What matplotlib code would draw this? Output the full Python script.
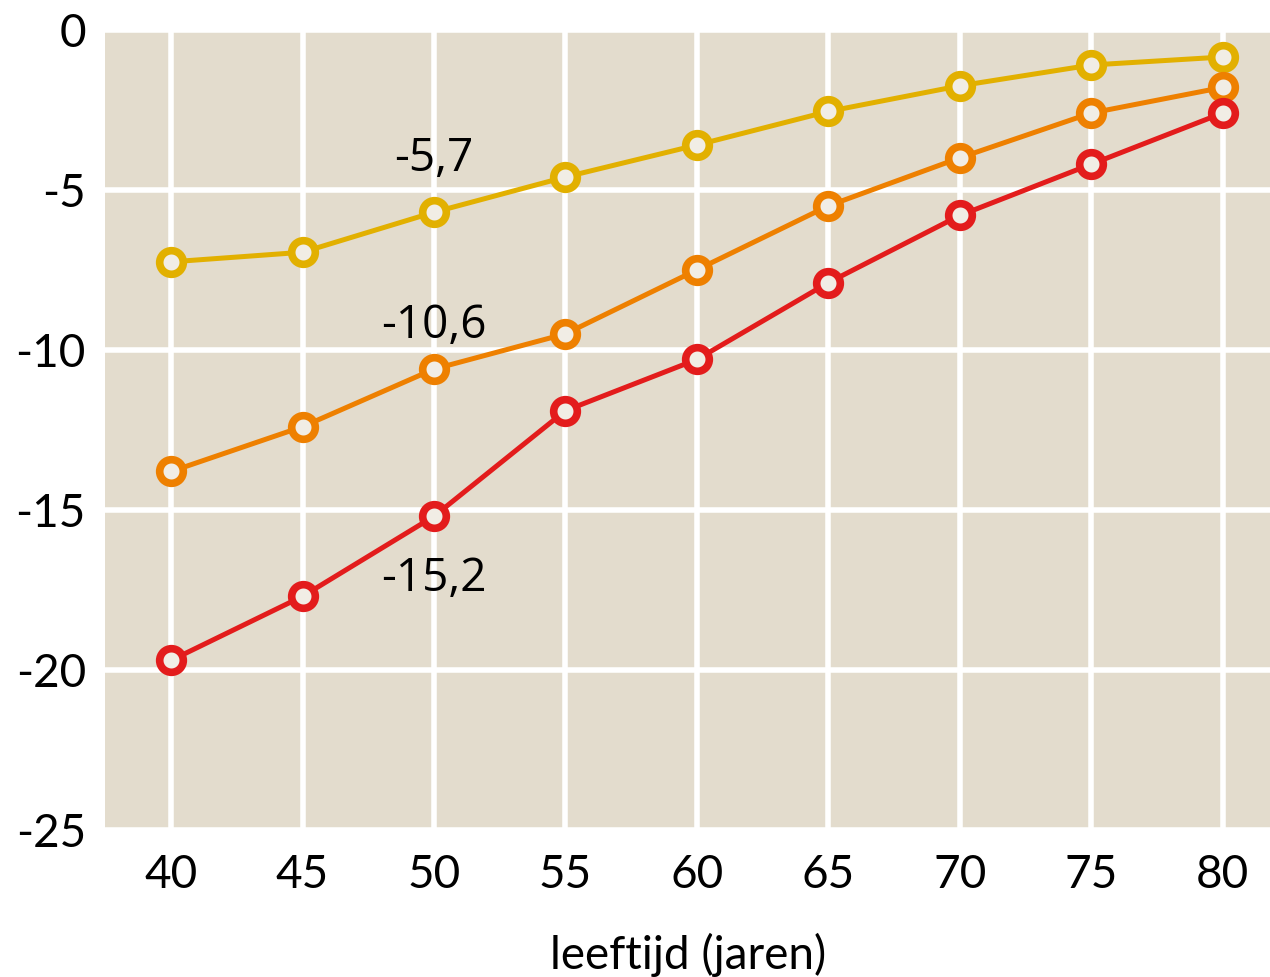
import matplotlib.pyplot as plt

plt.rcParams['axes.unicode_minus'] = False

leeftijd = [40, 45, 50, 55, 60, 65, 70, 75, 80]
geel = [-7.25, -6.95, -5.7, -4.6, -3.6, -2.55, -1.75, -1.1, -0.85]
oranje = [-13.8, -12.4, -10.6, -9.5, -7.5, -5.5, -4.0, -2.6, -1.8]
rood = [-19.7, -17.7, -15.2, -11.9, -10.3, -7.9, -5.8, -4.2, -2.6]

labels = [(50, -5.7), (50, -10.6), (50, -15.2)]

fig = plt.figure(figsize=(12.7, 9.77), dpi=100)
ax = fig.add_axes([0.083, 0.1505, 0.917, 0.819])
ax.set_facecolor('#E3DCCD')

for y, kleur in [(geel, '#E2B000'), (oranje, '#EE8000'), (rood, '#E31C1C')]:
    ax.plot(leeftijd, y, color=kleur, lw=3.6, marker='o', ms=17,
            mfc='#F1EDE5', mec=kleur, mew=5.5, zorder=3)

# labels bij 50 jaar
ax.text(labels[0][0], labels[0][1] + 1.65, '-5,7', ha='center', va='center',
        fontsize=33, family='Open Sans')
ax.text(labels[1][0], labels[1][1] + 1.35, '-10,6', ha='center', va='center',
        fontsize=33, family='Open Sans')
ax.text(labels[2][0], labels[2][1] - 1.95, '-15,2', ha='center', va='center',
        fontsize=33, family='Open Sans')

ax.set_xlim(37.5, 81.8)
ax.set_ylim(-25, 0)
ax.set_xticks(leeftijd)
ax.set_yticks([0, -5, -10, -15, -20, -25])
ax.grid(True, color='white', lw=4)
ax.set_axisbelow(True)
for s in ax.spines.values():
    s.set_visible(False)
ax.tick_params(length=0, labelsize=33, pad=14, labelcolor='black')
ax.tick_params(axis='x', pad=17)
for t in ax.get_xticklabels() + ax.get_yticklabels():
    t.set_family('Lato')
ax.set_xlabel('leeftijd (jaren)', fontsize=33, family='Lato', labelpad=27)

fig.savefig('out.png', dpi=100)
